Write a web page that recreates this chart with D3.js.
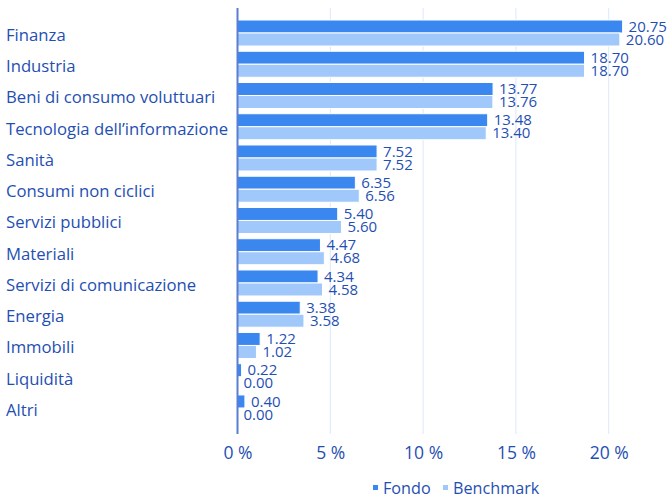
<!DOCTYPE html>
<html>
<head>
<meta charset="utf-8">
<script src="https://cdn.jsdelivr.net/npm/d3@7"></script>
<style>
  body { margin: 0; background: #fff; }
  text { font-family: "Open Sans", "Noto Sans", sans-serif; fill: #1f4fb3; }
</style>
</head>
<body>
<script>
var categories = ['Finanza', 'Industria', 'Beni di consumo voluttuari', 'Tecnologia dell\u2019informazione',
  'Sanità', 'Consumi non ciclici', 'Servizi pubblici', 'Materiali', 'Servizi di comunicazione',
  'Energia', 'Immobili', 'Liquidità', 'Altri'];
var fondo = [20.75, 18.70, 13.77, 13.48, 7.52, 6.35, 5.40, 4.47, 4.34, 3.38, 1.22, 0.22, 0.40];
var benchmark = [20.60, 18.70, 13.76, 13.40, 7.52, 6.56, 5.60, 4.68, 4.58, 3.58, 1.02, 0.00, 0.00];
var seriesNames = ['Fondo', 'Benchmark'];
var tickValues = [0, 5, 10, 15, 20];

var colors = ['#3b87f0', '#a0c8fa'];
var width = 670, height = 498;

var svg = d3.select('body').append('svg')
  .attr('width', width)
  .attr('height', height);

// x scale: 0% at ~237.5, 5% per ~92.8px
var x = d3.scaleLinear()
  .domain([0, 20])
  .range([237.5, 608.7]);

var y = d3.scaleBand()
  .domain(categories)
  .range([17.4, 423.6])
  .paddingInner(0)
  .paddingOuter(0);

var inner = d3.scaleBand()
  .domain(seriesNames)
  .range([2.6, 28.6]);

// grid lines
svg.append('g').selectAll('line')
  .data(tickValues.slice(1))
  .enter().append('line')
  .attr('x1', function(d) { return x(d); })
  .attr('x2', function(d) { return x(d); })
  .attr('y1', 8)
  .attr('y2', 434)
  .attr('stroke', '#dce8fb')
  .attr('stroke-width', 1);

// bars
var groups = svg.append('g').selectAll('g')
  .data(categories)
  .enter().append('g')
  .attr('transform', function(d) { return 'translate(0,' + y(d) + ')'; });

groups.each(function(cat, i) {
  var g = d3.select(this);
  var vals = [fondo[i], benchmark[i]];
  vals.forEach(function(v, j) {
    var yy = inner(seriesNames[j]);
    g.append('rect')
      .attr('x', x(0))
      .attr('y', yy)
      .attr('width', Math.max(0, x(v) - x(0)))
      .attr('height', inner.bandwidth())
      .attr('fill', colors[j])
      .attr('stroke', '#fff')
      .attr('stroke-width', 1);
    g.append('text')
      .attr('x', x(v) + 6)
      .attr('y', yy + inner.bandwidth() / 2)
      .attr('dy', '0.35em')
      .style('font-size', '15px')
      .text(v.toFixed(2));
  });
});

// category labels
svg.append('g').selectAll('text')
  .data(categories)
  .enter().append('text')
  .attr('x', 6)
  .attr('y', function(d) { return y(d) + y.bandwidth() / 2 + 2; })
  .attr('dy', '0.35em')
  .style('font-size', '16.7px')
  .text(function(d) { return d; });

// y axis line
svg.append('line')
  .attr('x1', x(0)).attr('x2', x(0))
  .attr('y1', 8).attr('y2', 434)
  .attr('stroke', '#5a7fd2')
  .attr('stroke-width', 2);

// x axis tick labels
var xAxis = d3.axisBottom(x)
  .tickValues(tickValues)
  .tickSize(0)
  .tickPadding(0)
  .tickFormat(function(d) { return d + ' %'; });

var axisG = svg.append('g')
  .attr('transform', 'translate(0,447)')
  .call(xAxis);
axisG.select('.domain').remove();
axisG.selectAll('text')
  .style('font-size', '17.5px')
  .attr('fill', '#1f4fb3')
  .style('font-family', '"Open Sans", "Noto Sans", sans-serif');

// legend
var legend = svg.append('g').attr('transform', 'translate(373,488)');
var lx = [0, 70];
seriesNames.forEach(function(s, j) {
  var lg = legend.append('g').attr('transform', 'translate(' + lx[j] + ',0)');
  lg.append('rect')
    .attr('x', 0).attr('y', -3)
    .attr('width', 5).attr('height', 5)
    .attr('fill', colors[j]);
  lg.append('text')
    .attr('x', 10).attr('y', 0)
    .attr('dy', '0.35em')
    .style('font-size', '16.2px')
    .text(s);
});
</script>
</body>
</html>
